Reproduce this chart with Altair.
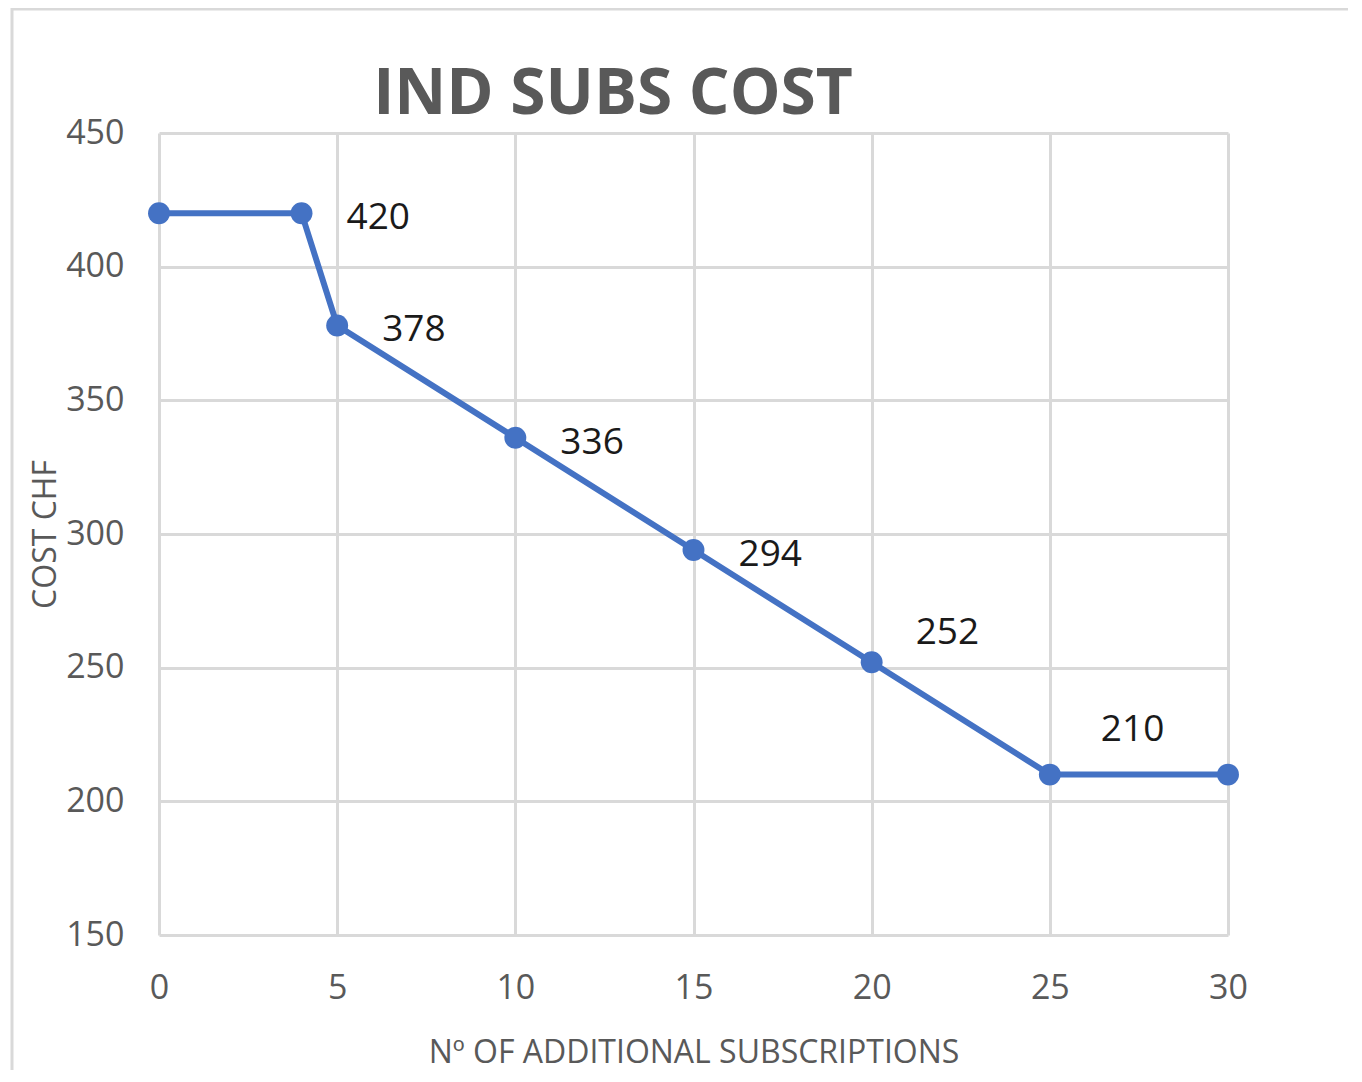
import altair as alt
import pandas as pd

subs = [0, 4, 5, 10, 15, 20, 25, 30]
cost = [420, 420, 378, 336, 294, 252, 210, 210]
label_subs = [4, 5, 10, 15, 20, 25]
label_cost = [420, 378, 336, 294, 252, 210]
x_ticks = [0, 5, 10, 15, 20, 25, 30]
y_ticks = [150, 200, 250, 300, 350, 400, 450]
title_text = ["IND SUBS COST"]

df = pd.DataFrame({"subs": subs, "cost": cost})
lab = pd.DataFrame({"subs": label_subs, "cost": label_cost})
ttl = pd.DataFrame({"t": title_text})

FONT = "Open Sans"
GRAY = "#595959"
BLUE = "#4472C4"

xs = alt.Scale(domain=[0, 30], nice=False)
ys = alt.Scale(domain=[150, 450], nice=False)

base = alt.Chart(df)

border = alt.Chart(ttl).mark_rect(fill=None, stroke="#d9d9d9", strokeWidth=3).encode(
    x=alt.value(-147), x2=alt.value(1300), y=alt.value(-124), y2=alt.value(1000)
)

line = base.mark_line(color=BLUE, strokeWidth=6).encode(
    x=alt.X("subs:Q", scale=xs,
            axis=alt.Axis(values=x_ticks, title="Nº OF ADDITIONAL SUBSCRIPTIONS",
                          titleY=117, titleBaseline="middle", labelFlush=False)),
    y=alt.Y("cost:Q", scale=ys,
            axis=alt.Axis(values=y_ticks, title="COST CHF",
                          titleX=-114, titleY=401, titleAngle=270,
                          titleBaseline="middle", titleAlign="center")),
)
points = base.mark_point(filled=True, shape="circle", size=480, color=BLUE, opacity=1).encode(
    x=alt.X("subs:Q", scale=xs), y=alt.Y("cost:Q", scale=ys)
)

lab_enc = dict(x=alt.X("subs:Q", scale=xs), y=alt.Y("cost:Q", scale=ys), text="cost:Q")
labels_a = alt.Chart(lab).transform_filter("datum.cost >= 294").mark_text(
    align="left", baseline="middle", dx=45, dy=5, font=FONT, fontSize=37, color="#1a1a1a"
).encode(**lab_enc)
labels_b = alt.Chart(lab).transform_filter("datum.cost == 252").mark_text(
    align="left", baseline="middle", dx=44, dy=-29, font=FONT, fontSize=37, color="#1a1a1a"
).encode(**lab_enc)
labels_c = alt.Chart(lab).transform_filter("datum.cost == 210").mark_text(
    align="left", baseline="middle", dx=51, dy=-45, font=FONT, fontSize=37, color="#1a1a1a"
).encode(**lab_enc)

title = alt.Chart(ttl).mark_text(
    align="center", baseline="alphabetic", font=FONT, fontSize=64, fontWeight="bold", color=GRAY
).encode(text="t:N", x=alt.value(454), y=alt.value(-19))

chart = alt.layer(border, line, points, labels_a, labels_b, labels_c, title).properties(
    width=1069, height=802,
    autosize=alt.AutoSizeParams(type="none"),
    padding={"left": 151, "top": 125, "right": 120, "bottom": 135},
).configure_view(stroke=None).configure_axis(
    grid=True, gridColor="#d9d9d9", gridWidth=3, domain=False, ticks=False,
    labelFont=FONT, labelFontSize=34, labelColor=GRAY,
    titleFont=FONT, titleFontSize=32, titleColor=GRAY, titleFontWeight="normal",
).configure_axisX(labelPadding=36).configure_axisY(labelPadding=35)

chart.save("out.html", embed_options={"renderer": "svg", "actions": False})
